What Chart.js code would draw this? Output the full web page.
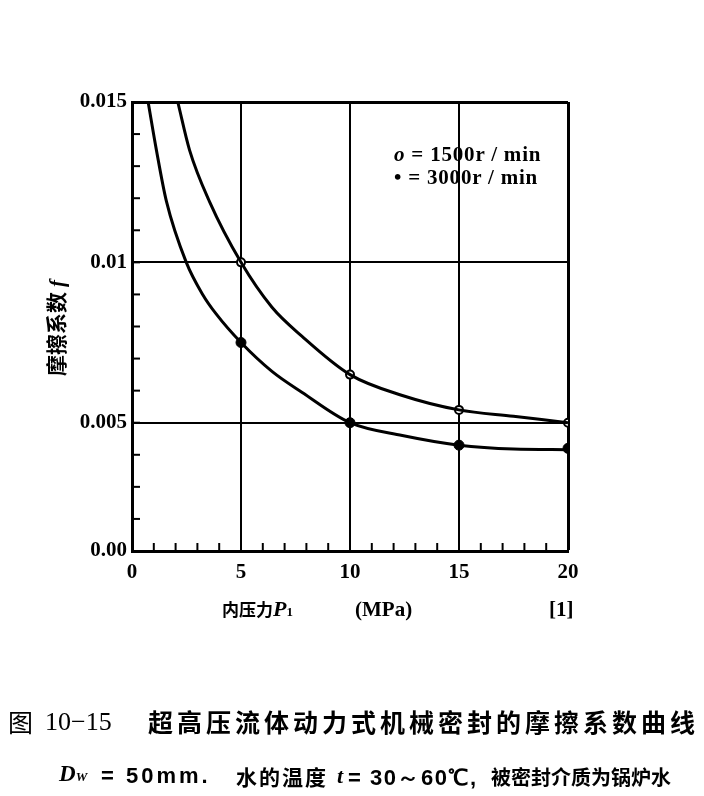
<!DOCTYPE html>
<html>
<head>
  <title>摩擦系数曲线</title>
  <script src="https://cdn.jsdelivr.net/npm/chart.js"></script>
  <style>
    body { margin: 0; background: #fff; }
    #wrap { position: relative; width: 704px; height: 796px; }
    #wrap canvas { position: absolute; left: 0; top: 0; }
    .txt { position: absolute; color: #000; white-space: nowrap; }
    .serif { font-family: "Liberation Serif", "DejaVu Serif", serif; }
    .sans { font-family: "Liberation Sans", Arial, sans-serif; }
    .cjk { font-family: "Noto Sans CJK SC", sans-serif; }
  </style>
</head>
<body>
  <div id="wrap">
    <canvas id="frictionChart" width="704" height="796"></canvas>

    <!-- legend -->
    <div class="txt serif" style="left:394px; top:142px; font-size:21px; font-weight:bold; letter-spacing:0.8px;"><i>o</i> = 1500r / min</div>
    <div class="txt serif" style="left:394px; top:165px; font-size:21px; font-weight:bold; letter-spacing:0.8px;">• = 3000r / min</div>

    <!-- axis titles -->
    <div class="txt cjk" style="left:-4px; top:314px; width:116px; font-size:21px; font-weight:bold; transform-origin:58px 14px; transform:rotate(-90deg); text-align:center;">摩擦系数 <i class="serif">f</i></div>
    <div class="txt" style="left:222px; top:596px; font-size:17px; font-weight:bold;"><span class="cjk">内压力</span><i class="serif" style="font-size:22px;">P</i><span class="serif" style="font-size:13px;">1</span></div>
    <div class="txt serif" style="left:355px; top:597px; font-size:21px; font-weight:bold;">(MPa)</div>
    <div class="txt serif" style="left:549px; top:597px; font-size:21px; font-weight:bold;">[1]</div>

    <!-- caption -->
    <div class="txt cjk" style="left:8px; top:703px; font-size:25px;">图</div>
    <div class="txt serif" style="left:45px; top:707px; font-size:26px;">10−15</div>
    <div class="txt cjk" style="left:148px; top:703px; font-size:25px; letter-spacing:4px; font-weight:bold;">超高压流体动力式机械密封的摩擦系数曲线</div>

    <div class="txt serif" style="left:59px; top:761px; font-size:23px; font-weight:bold;"><i>D</i><i style="font-size:13px;">W</i></div>
    <div class="txt sans" style="left:101px; top:763px; font-size:22px; font-weight:bold; letter-spacing:3px;">= 50mm.</div>
    <div class="txt cjk" style="left:236px; top:761px; font-size:21px; font-weight:bold; letter-spacing:2px;">水的温度</div>
    <div class="txt serif" style="left:337px; top:763px; font-size:22px; font-style:italic; font-weight:bold;">t</div>
    <div class="txt sans" style="left:348px; top:763px; font-size:22px; font-weight:bold; letter-spacing:1.5px;">= 30～60℃,</div>
    <div class="txt cjk" style="left:491px; top:762px; font-size:20px; font-weight:bold;">被密封介质为锅炉水</div>
  </div>

  <script>
    // marked test points (MPa, friction coefficient)
    const pressure = [5, 10, 15, 20];
    const f1500 = [0.0100, 0.0065, 0.0054, 0.0050];
    const f3000 = [0.0075, 0.0050, 0.0043, 0.0042];

    // smooth curves
    const curve1500P = [2.1, 2.64, 3.55, 5, 6.42, 7.79, 10, 12.4, 15, 17.5, 20];
    const curve1500F = [0.0150, 0.0135, 0.0119, 0.0100, 0.0086, 0.0077, 0.0065, 0.00585, 0.0054, 0.0052, 0.0050];
    const curve3000P = [0.74, 1.12, 1.58, 2.49, 3.24, 3.85, 5, 6.42, 7.79, 10, 12.4, 15, 17.5, 20];
    const curve3000F = [0.0150, 0.0135, 0.0119, 0.0100, 0.0090, 0.0084, 0.0075, 0.0066, 0.00595, 0.0050, 0.0046, 0.0043, 0.00418, 0.00416];

    // y tick labels
    const yLabels = { 1: '0.00', 5: '0.005', 10: '0.01', 15: '0.015' };

    const toXY = (xs, ys) => xs.map((x, i) => ({ x: x, y: ys[i] }));

    // little inward ticks along the left and bottom axes
    const minorTicks = {
      id: 'minorTicks',
      afterDraw(chart) {
        const ctx = chart.ctx;
        const area = chart.chartArea;
        ctx.save();
        ctx.strokeStyle = '#000';
        ctx.lineWidth = 2;
        chart.scales.y.ticks.forEach(t => {
          const py = chart.scales.y.getPixelForValue(t.value);
          ctx.beginPath();
          ctx.moveTo(area.left, py);
          ctx.lineTo(area.left + 8, py);
          ctx.stroke();
        });
        chart.scales.x.ticks.forEach(t => {
          const px = chart.scales.x.getPixelForValue(t.value);
          ctx.beginPath();
          ctx.moveTo(px, area.bottom);
          ctx.lineTo(px, area.bottom - 8);
          ctx.stroke();
        });
        ctx.restore();
      }
    };

    const isMajorY = v => [5, 10, 15].includes(Math.round(v * 1000));
    const isMajorX = v => Math.round(v) % 5 === 0 && Math.round(v) > 0;

    new Chart(document.getElementById('frictionChart'), {
      type: 'line',
      data: {
        datasets: [
          {
            label: '1500r/min curve',
            data: toXY(curve1500P, curve1500F),
            borderColor: '#000',
            borderWidth: 3,
            pointRadius: 0,
            cubicInterpolationMode: 'monotone',
          },
          {
            label: '3000r/min curve',
            data: toXY(curve3000P, curve3000F),
            borderColor: '#000',
            borderWidth: 3,
            pointRadius: 0,
            cubicInterpolationMode: 'monotone',
          },
          {
            label: 'o = 1500r / min',
            data: toXY(pressure, f1500),
            showLine: false,
            pointRadius: 4,
            pointBackgroundColor: '#fff',
            pointBorderColor: '#000',
            pointBorderWidth: 2,
          },
          {
            label: '• = 3000r / min',
            data: toXY(pressure, f3000),
            showLine: false,
            pointRadius: 5,
            pointBackgroundColor: '#000',
            pointBorderColor: '#000',
            pointBorderWidth: 1,
          },
        ],
      },
      options: {
        responsive: false,
        animation: false,
        layout: { padding: { left: 0, top: 102, right: 136, bottom: 0 } },
        plugins: { legend: { display: false }, tooltip: { enabled: false } },
        scales: {
          x: {
            type: 'linear',
            min: 0,
            max: 20,
            afterFit(scale) { scale.height = 245; },
            ticks: {
              stepSize: 1,
              padding: 9,
              color: '#000',
              font: { family: 'Liberation Serif', size: 21, weight: 'bold' },
              callback: v => (v % 5 === 0 ? String(v) : ''),
              maxRotation: 0,
              autoSkip: false,
            },
            grid: {
              drawTicks: false,
              color: ctx => (isMajorX(ctx.tick.value) ? '#000' : 'rgba(0,0,0,0)'),
              lineWidth: ctx => (Math.round(ctx.tick.value) === 20 ? 3 : 2),
            },
            border: { display: true, color: '#000', width: 3 },
          },
          y: {
            min: 0.001,
            max: 0.015,
            afterFit(scale) { scale.width = 132; },
            ticks: {
              stepSize: 0.001,
              padding: 5,
              color: '#000',
              font: { family: 'Liberation Serif', size: 21, weight: 'bold' },
              callback: v => yLabels[Math.round(v * 1000)] || '',
              autoSkip: false,
            },
            grid: {
              drawTicks: false,
              color: ctx => (isMajorY(ctx.tick.value) ? '#000' : 'rgba(0,0,0,0)'),
              lineWidth: ctx => (Math.round(ctx.tick.value * 1000) === 15 ? 3 : 2),
            },
            border: { display: true, color: '#000', width: 3 },
          },
        },
      },
      plugins: [minorTicks],
    });
  </script>
</body>
</html>
